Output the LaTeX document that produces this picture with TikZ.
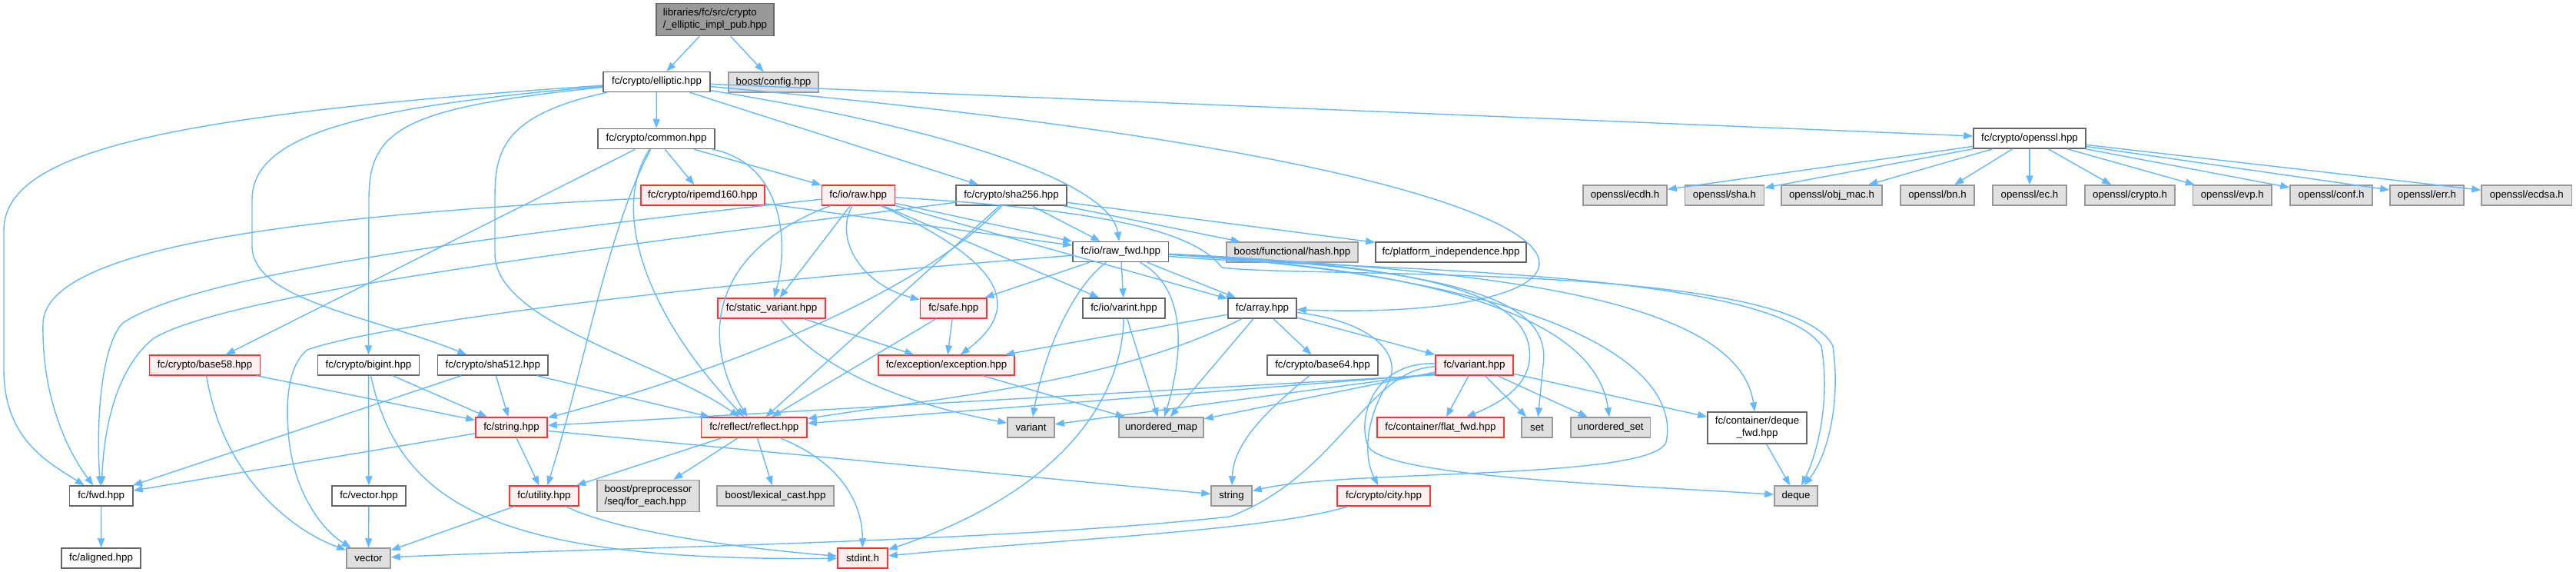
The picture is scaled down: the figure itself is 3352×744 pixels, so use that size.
\documentclass[tikz,border=0pt]{standalone}
\usepackage{fontspec}
\setmainfont{Liberation Sans}
\usetikzlibrary{arrows.meta}
\definecolor{edgec}{HTML}{63B8FF}
\definecolor{boxdraw}{HTML}{666666}
\definecolor{extdraw}{HTML}{999999}
\definecolor{extfill}{HTML}{E0E0E0}
\definecolor{truncfill}{HTML}{FFF0F0}
\definecolor{truncdraw}{HTML}{FF3333}
\definecolor{rootfill}{HTML}{999999}
\begin{document}
\begin{tikzpicture}[x=1pt,y=-1pt,
  box/.style={draw=boxdraw,fill=white,line width=1.5pt,inner sep=0pt,minimum height=26pt,font=\fontsize{13.3}{16}\selectfont},
  ext/.style={box,draw=extdraw,fill=extfill},
  trunc/.style={box,draw=truncdraw,fill=truncfill},
  rootn/.style={box,fill=rootfill},
  e/.style={draw=edgec,line width=1.4pt,-{Triangle[length=12pt,width=9pt]}}]
\useasboundingbox (0,0) rectangle (3352,744);
% row 0
\node[rootn,minimum width=153pt,minimum height=42pt,align=left] (root) at (930.5,25.5) {libraries/fc/src/crypto\\/\_elliptic\_impl\_pub.hpp};
% row 1
\node[box,minimum width=139pt] (elliptic) at (854.5,106.5) {fc/crypto/elliptic.hpp};
\node[ext,minimum width=117pt] (bconfig) at (1006.5,107) {boost/config.hpp};
% row 2
\node[box,minimum width=152pt] (common) at (854,180.5) {fc/crypto/common.hpp};
\node[box,minimum width=146pt] (openssl) at (2641,180) {fc/crypto/openssl.hpp};
% row 3
\node[trunc,minimum width=161pt] (ripemd) at (914.5,254) {fc/crypto/ripemd160.hpp};
\node[trunc,minimum width=95pt] (raw) at (1116.8,254) {fc/io/raw.hpp};
\node[box,minimum width=144pt] (sha256) at (1316,254) {fc/crypto/sha256.hpp};
\node[ext,minimum width=109pt] (ecdh) at (2114.5,254) {openssl/ecdh.h};
\node[ext,minimum width=103pt] (shah) at (2244,254) {openssl/sha.h};
\node[ext,minimum width=131pt] (objmac) at (2383.5,254) {openssl/obj\_mac.h};
\node[ext,minimum width=96pt] (bn) at (2521,254) {openssl/bn.h};
\node[ext,minimum width=96pt] (ec) at (2641,254) {openssl/ec.h};
\node[ext,minimum width=117pt] (cryptoh) at (2771.5,254) {openssl/crypto.h};
\node[ext,minimum width=102.5pt] (evp) at (2904.8,254) {openssl/evp.h};
\node[ext,minimum width=107pt] (conf) at (3033.5,254) {openssl/conf.h};
\node[ext,minimum width=96pt] (err) at (3158,254) {openssl/err.h};
\node[ext,minimum width=117.5pt] (ecdsa) at (3287.8,254) {openssl/ecdsa.h};
% row 4
\node[box,minimum width=124.5pt] (rawfwd) at (1458.3,327.5) {fc/io/raw\_fwd.hpp};
\node[ext,minimum width=171pt] (hash) at (1681.5,328) {boost/functional/hash.hpp};
\node[box,minimum width=196pt] (platform) at (1888,328) {fc/platform\_independence.hpp};
% row 5
\node[trunc,minimum width=140pt] (staticv) at (1004,401) {fc/static\_variant.hpp};
\node[trunc,minimum width=86.5pt] (safe) at (1240.8,401) {fc/safe.hpp};
\node[box,minimum width=107pt] (varint) at (1462.5,401) {fc/io/varint.hpp};
\node[box,minimum width=89pt] (array) at (1642.5,401) {fc/array.hpp};
% row 6
\node[trunc,minimum width=144pt] (base58) at (266.5,475) {fc/crypto/base58.hpp};
\node[box,minimum width=132pt] (bigint) at (479.5,475) {fc/crypto/bigint.hpp};
\node[box,minimum width=143.5pt] (sha512) at (641.3,475) {fc/crypto/sha512.hpp};
\node[trunc,minimum width=177pt] (exception) at (1231.5,475) {fc/exception/exception.hpp};
\node[box,minimum width=144pt] (base64) at (1721,475) {fc/crypto/base64.hpp};
\node[trunc,minimum width=101pt] (varianthpp) at (1918.5,475) {fc/variant.hpp};
% row 7
\node[trunc,minimum width=93pt] (stringhpp) at (665.5,556) {fc/string.hpp};
\node[trunc,minimum width=137.5pt] (reflect) at (981.3,556) {fc/reflect/reflect.hpp};
\node[ext,minimum width=61pt] (variant) at (1341.5,556) {variant};
\node[ext,minimum width=110pt] (umap) at (1511,556) {unordered\_map};
\node[trunc,minimum width=165pt] (flatfwd) at (1874.5,556) {fc/container/flat\_fwd.hpp};
\node[ext,minimum width=40pt] (setn) at (2000,556) {set};
\node[ext,minimum width=103.5pt] (uset) at (2095.8,556) {unordered\_set};
\node[box,minimum width=129pt,minimum height=41pt,align=center] (dequefwd) at (2286.5,556.5) {fc/container/deque\\\_fwd.hpp};
% row 8
\node[box,minimum width=82.5pt] (fwd) at (131.8,645) {fc/fwd.hpp};
\node[box,minimum width=96pt] (vectorhpp) at (480,645) {fc/vector.hpp};
\node[trunc,minimum width=90pt] (utility) at (708,645) {fc/utility.hpp};
\node[ext,minimum width=133pt,minimum height=41pt,align=left] (bpp) at (843.5,645) {boost/preprocessor\\/seq/for\_each.hpp};
\node[ext,minimum width=152pt] (lexcast) at (1009,645) {boost/lexical\_cast.hpp};
\node[ext,minimum width=53pt] (strn) at (1602.5,645) {string};
\node[trunc,minimum width=121pt] (city) at (1800.5,645) {fc/crypto/city.hpp};
\node[ext,minimum width=56pt] (deque) at (2337,645) {deque};
% row 9
\node[box,minimum width=103pt] (aligned) at (131.5,726) {fc/aligned.hpp};
\node[ext,minimum width=57pt] (vec) at (479.5,726) {vector};
\node[trunc,minimum width=65pt] (stdint) at (1122.5,726) {stdint.h};

% ---- edges ----
\draw[e] (root) -- (elliptic);
\draw[e] (root) -- (bconfig);
% elliptic
\draw[e] (elliptic) -- (common);
\draw[e] (elliptic) -- (openssl);
\draw[e] (elliptic) -- (sha256);
\draw[e] (elliptic) .. controls (1250,170) and (1445,240) .. (rawfwd);
\draw[e] (elliptic) .. controls (2250,230) and (2150,420) .. (array);
\draw[e] (elliptic) .. controls (650,150) and (644,200) .. (644,260) -- (644,330) .. controls (644,420) and (860,470) .. (reflect);
\draw[e] (elliptic) .. controls (200,150) and (5,200) .. (5,300) -- (5,480) .. controls (5,570) and (60,600) .. (fwd);
\draw[e] (elliptic) .. controls (520,140) and (480,170) .. (480,260) -- (bigint);
\draw[e] (elliptic) .. controls (450,140) and (328,180) .. (328,260) -- (328,320) .. controls (328,390) and (480,410) .. (sha512);
% common
\draw[e] (common) -- (base58);
\draw[e] (common) .. controls (790,300) and (760,480) .. (utility);
\draw[e] (common) .. controls (790,280) and (850,420) .. (reflect);
\draw[e] (common) -- (ripemd);
\draw[e] (common) -- (raw);
\draw[e] (common) .. controls (1010,210) and (1030,300) .. (staticv);
% openssl
\foreach \t in {ecdh,shah,objmac,bn,ec,cryptoh,evp,conf,err,ecdsa} {\draw[e] (openssl) -- (\t);}
% ripemd
\draw[e] (ripemd) .. controls (400,280) and (60,320) .. (56,420) .. controls (54,520) and (90,590) .. (fwd);
\draw[e] (ripemd) -- (rawfwd);
% raw
\draw[e] (raw) -- (rawfwd);
\draw[e] (raw) .. controls (600,310) and (250,360) .. (160,420) .. controls (130,450) and (125,560) .. (fwd);
\draw[e] (raw) .. controls (915,330) and (915,450) .. (reflect);
\draw[e] (raw) -- (staticv);
\draw[e] (raw) .. controls (1085,310) and (1120,370) .. (safe);
\draw[e] (raw) .. controls (1280,330) and (1345,390) .. (exception);
\draw[e] (raw) -- (varint);
\draw[e] (raw) -- (array);
\draw[e] (raw) .. controls (1480,275) and (1560,310) .. (1590,348) .. controls (1700,362) and (2330,340) .. (2385,450) .. controls (2395,520) and (2380,590) .. (deque);
% sha256
\draw[e] (sha256) .. controls (800,320) and (300,380) .. (200,440) .. controls (150,480) and (135,560) .. (fwd);
\draw[e] (sha256) .. controls (1200,380) and (950,480) .. (stringhpp);
\draw[e] (sha256) -- (reflect);
\draw[e] (sha256) -- (rawfwd);
\draw[e] (sha256) -- (hash);
\draw[e] (sha256) -- (platform);
% raw_fwd
\draw[e] (rawfwd) .. controls (900,370) and (500,420) .. (400,455) .. controls (375,475) and (372,520) .. (375,560) .. controls (380,640) and (420,690) .. (vec);
\draw[e] (rawfwd) -- (safe);
\draw[e] (rawfwd) .. controls (1400,370) and (1360,450) .. (variant);
\draw[e] (rawfwd) -- (varint);
\draw[e] (rawfwd) .. controls (1545,375) and (1540,460) .. (umap);
\draw[e] (rawfwd) -- (array);
\draw[e] (rawfwd) .. controls (1850,345) and (2000,380) .. (1990,470) .. controls (1985,505) and (1950,525) .. (flatfwd);
\draw[e] (rawfwd) .. controls (1900,350) and (2020,390) .. (2008,475) -- (setn);
\draw[e] (rawfwd) .. controls (1950,355) and (2080,440) .. (uset);
\draw[e] (rawfwd) .. controls (1900,350) and (2260,380) .. (dequefwd);
\draw[e] (rawfwd) .. controls (1700,350) and (2300,345) .. (2370,450) .. controls (2382,520) and (2365,590) .. (deque);
\draw[e] (rawfwd) .. controls (2000,360) and (2190,470) .. (2168,575) .. controls (2150,625) and (1750,610) .. (strn);
% varint
\draw[e] (varint) .. controls (1460,520) and (1380,640) .. (stdint);
\draw[e] (varint) -- (umap);
% static_variant, safe, exception
\draw[e] (staticv) -- (exception);
\draw[e] (staticv) .. controls (1060,470) and (1150,520) .. (variant);
\draw[e] (safe) -- (exception);
\draw[e] (safe) -- (reflect);
\draw[e] (exception) -- (umap);
% array
\draw[e] (array) -- (exception);
\draw[e] (array) .. controls (1450,500) and (1200,520) .. (reflect);
\draw[e] (array) -- (umap);
\draw[e] (array) -- (base64);
\draw[e] (array) -- (varianthpp);
\draw[e] (array) .. controls (1800,420) and (1825,470) .. (1805,500) .. controls (1780,540) and (1772,590) .. (city);
% base64
\draw[e] (base64) .. controls (1640,540) and (1605,580) .. (strn);
% variant.hpp
\draw[e] (varianthpp.194) -- (stringhpp);
\draw[e] (varianthpp.193) -- (reflect);
\draw[e] (varianthpp.192) -- (variant);
\draw[e] (varianthpp.190) -- (umap);
\draw[e] (varianthpp) -- (flatfwd);
\draw[e] (varianthpp) -- (setn);
\draw[e] (varianthpp) -- (uset);
\draw[e] (varianthpp) -- (dequefwd);
\draw[e] (varianthpp) .. controls (1790,470) and (1765,540) .. (1780,580) .. controls (1800,620) and (2100,630) .. (deque);
\draw[e] (varianthpp) .. controls (1780,480) and (1740,620) .. (1600,672) .. controls (1300,705) and (800,712) .. (vec);
% string.hpp
\draw[e] (stringhpp) -- (fwd);
\draw[e] (stringhpp) -- (utility);
\draw[e] (stringhpp) -- (strn);
% reflect
\draw[e] (reflect) -- (utility);
\draw[e] (reflect) -- (bpp);
\draw[e] (reflect) -- (lexcast);
\draw[e] (reflect) .. controls (1090,600) and (1122,650) .. (stdint);
% utility
\draw[e] (utility) -- (vec);
\draw[e] (utility) .. controls (800,690) and (950,712) .. (stdint);
% bigint
\draw[e] (bigint) -- (stringhpp);
\draw[e] (bigint) -- (vectorhpp);
\draw[e] (bigint) .. controls (520,660) and (650,730) .. (stdint);
% base58
\draw[e] (base58) -- (stringhpp);
\draw[e] (base58) .. controls (290,620) and (380,690) .. (vec);
% sha512
\draw[e] (sha512) -- (fwd);
\draw[e] (sha512) -- (stringhpp);
\draw[e] (sha512) -- (reflect);
% misc
\draw[e] (vectorhpp) -- (vec);
\draw[e] (fwd) -- (aligned);
\draw[e] (city) .. controls (1650,690) and (1400,700) .. (stdint);
\draw[e] (dequefwd) -- (deque);
\end{tikzpicture}
\end{document}
